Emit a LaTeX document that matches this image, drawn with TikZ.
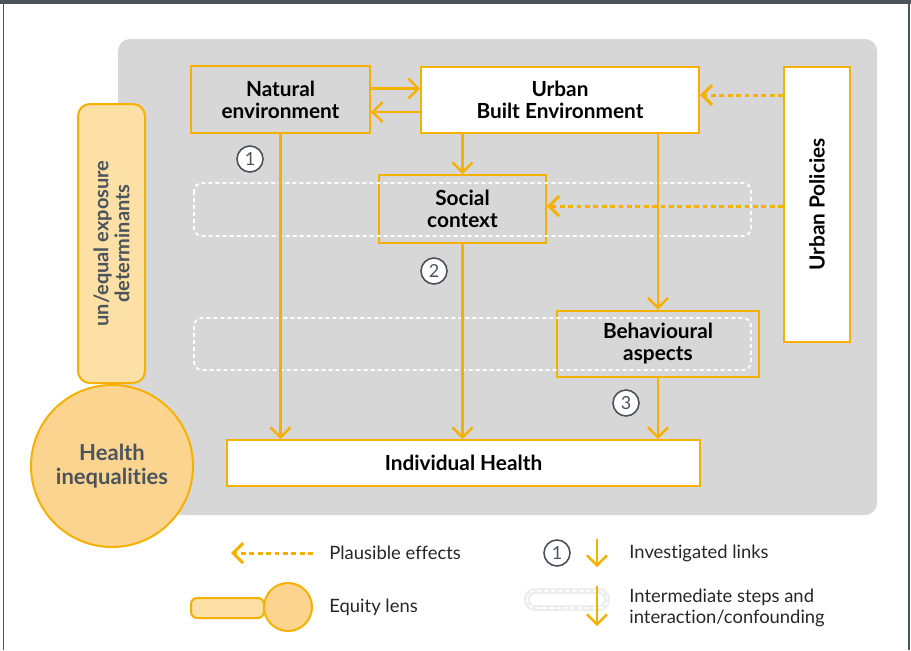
\documentclass[tikz,border=0pt]{standalone}
\usepackage{fontspec}
\setmainfont{Lato}[Ligatures=NoCommon]
\usetikzlibrary{arrows.meta}
\definecolor{orng}{RGB}{245,176,0}
\definecolor{lightorng}{RGB}{253,224,166}
\definecolor{circfill}{RGB}{251,213,143}
\definecolor{darkgray}{RGB}{75,83,92}
\definecolor{panelgray}{RGB}{215,215,215}
\begin{document}
\begin{tikzpicture}[x=0.5pt,y=-0.5pt,
    box/.style={draw=orng,line width=1pt,align=center,inner sep=0pt,
      font=\bfseries\fontsize{10.4}{11}\selectfont},
    arr/.style={orng,line width=1.2pt,-{Straight Barb[length=5pt,width=10pt]}},
    plaus/.style={arr,line width=1.5pt,dash pattern=on 2.4pt off 1.8pt},
    num/.style={circle,draw=darkgray,line width=0.8pt,fill=white,text=darkgray,
      minimum size=13pt,inner sep=0pt,font=\fontsize{9}{9}\selectfont},
    row/.style={draw=white,line width=0.9pt,dash pattern=on 2pt off 1.5pt,rounded corners=4pt},
    legend/.style={anchor=west,align=left,inner sep=0pt,text=black!85,
      font=\fontsize{9.2}{10.5}\selectfont}]
  \useasboundingbox (0,0) rectangle (911,650);
  % frame and panel
  \fill[darkgray] (0,0) rectangle (911,4);
  \draw[darkgray,line width=0.6pt] (3.5,0) -- (3.5,650);
  \draw[darkgray,line width=0.6pt] (909,0) -- (909,650);
  \fill[panelgray,rounded corners=6pt] (118,39) rectangle (877,515);
  % equity lens
  \node[draw=orng,fill=lightorng,line width=1pt,rounded corners=6pt,rotate=90,
    minimum width=139.5pt,minimum height=33.5pt,align=center,text=darkgray,
    font=\bfseries\fontsize{10}{10.5}\selectfont] (expo) at (111.5,243.5)
    {un/equal exposure\\determinants};
  \node[circle,draw=orng,fill=circfill,line width=1pt,minimum size=81pt,
    align=center,text=darkgray,font=\bfseries\fontsize{11}{12}\selectfont]
    (hi) at (112,466) {Health\\inequalities};
  % boxes
  \node[box,minimum width=89.5pt,minimum height=33.5pt] (nat) at (280.5,99.5)
    {Natural\\environment};
  \node[box,fill=white,minimum width=139pt,minimum height=33pt] (ube) at (560,100)
    {Urban\\Built Environment};
  \node[box,minimum width=83.5pt,minimum height=34pt] (soc) at (462.5,209)
    {Social\\context};
  \node[box,minimum width=101pt,minimum height=33pt] (beh) at (658,343.5)
    {Behavioural\\aspects};
  \node[box,fill=white,minimum width=236.5pt,minimum height=23pt] (ih) at (463.5,463)
    {Individual Health};
  \node[box,fill=white,rotate=90,minimum width=137.5pt,minimum height=33pt] (pol)
    at (817,204.5) {Urban Policies};
  % intermediate steps
  \draw[row] (194,183) rectangle (751,236);
  \draw[row] (194,318) rectangle (751,370);
  % links
  \draw[arr] ([yshift=5.5pt]nat.east) -- ([yshift=5.5pt]nat.east -| ube.west);
  \draw[arr] ([yshift=-6pt]ube.west) -- ([yshift=-6pt]ube.west -| nat.east);
  \draw[arr] (soc.north |- ube.south) -- (soc.north);
  \draw[arr] (beh.north |- ube.south) -- (beh.north);
  \draw[arr] (nat.south) -- (nat.south |- ih.north);
  \draw[arr] (soc.south) -- (soc.south |- ih.north);
  \draw[arr] (beh.south) -- (beh.south |- ih.north);
  \draw[plaus] ([yshift=2.5pt]ube.east -| pol.north) -- ([yshift=2.5pt]ube.east);
  \draw[plaus] ([yshift=1.5pt]soc.east -| pol.north) -- ([yshift=1.5pt]soc.east);
  \node[num] (n1) at (250,159) {1};
  \node[num] (n2) at (434,271) {2};
  \node[num] (n3) at (626,403) {3};
  % legend
  \coordinate (pe1) at (313,553);
  \coordinate (pe2) at (231,553);
  \draw[plaus] (pe1) -- (pe2);
  \node[legend] (pet) at (329,553) {Plausible effects};
  \node[draw=orng,fill=lightorng,line width=1pt,rounded corners=3pt,
    minimum width=36.5pt,minimum height=10pt] (lrect) at (227.5,608) {};
  \node[circle,draw=orng,fill=circfill,line width=1pt,minimum size=24pt]
    (lcirc) at (288,607) {};
  \node[legend] (elt) at (329,607) {Equity lens};
  \node[num] (ln) at (557,553) {1};
  \coordinate (la1) at (597,539);
  \coordinate (la2) at (597,567);
  \draw[arr] (la1) -- (la2);
  \node[legend] (ilt) at (629,553) {Investigated links};
  \draw[black!7,line width=3pt,rounded corners=4pt] (527,591) rectangle (607,608);
  \draw[row] (527,591) rectangle (607,608);
  \coordinate (lb1) at (597,586);
  \coordinate (lb2) at (597,626);
  \draw[arr] (lb1) -- (lb2);
  \node[legend] (ist) at (629,608) {Intermediate steps and\\interaction/confounding};
\end{tikzpicture}
\end{document}
